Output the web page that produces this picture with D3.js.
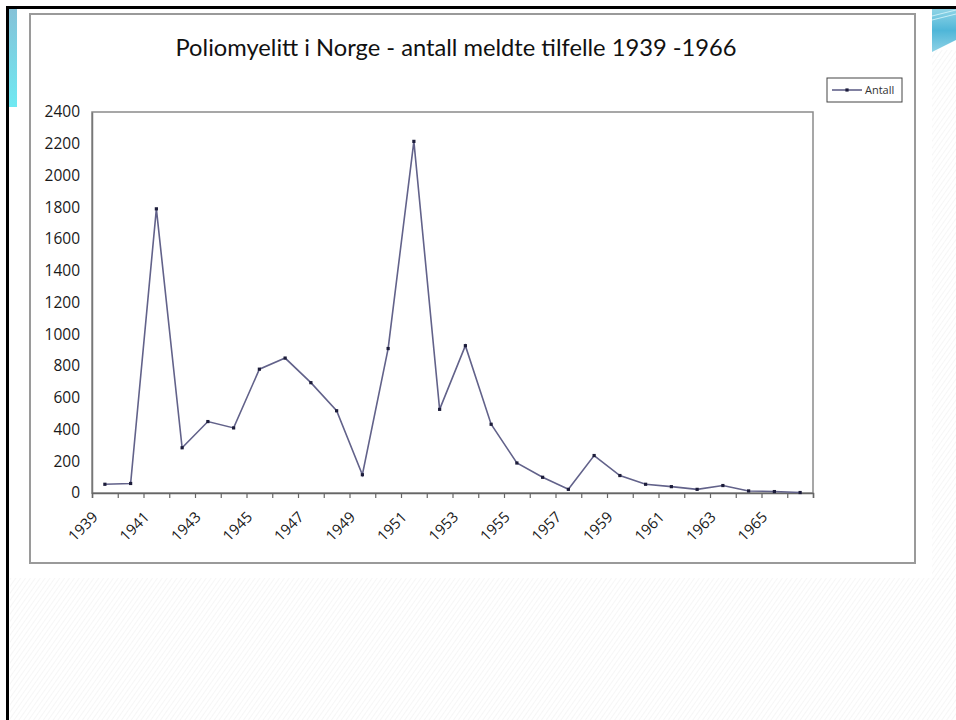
<!DOCTYPE html>
<html lang="nb">
<head>
<meta charset="utf-8">
<script src="https://cdn.jsdelivr.net/npm/d3@7"></script>
<style>
    body { margin: 0; background: #fff; }
    .axis text { font-family: "Open Sans", sans-serif; fill: #1a1a1a; }
</style>
</head>
<body>
<script>
    // data
    let years = d3.range(1939, 1967).map(String);
    let antall = [55, 60, 1790, 285, 450, 410, 780, 850, 695, 518, 115, 910, 2215, 527, 928, 433,
                  189, 99, 23, 236, 110, 55, 40, 23, 47, 13, 9, 3];
    let yTicks = [0, 200, 400, 600, 800, 1000, 1200, 1400, 1600, 1800, 2000, 2200, 2400];
    let xLabels = years.filter((d, i) => i % 2 === 0);
    let title = "Poliomyelitt i Norge - antall meldte tilfelle 1939 -1966";
    let seriesName = "Antall";

    let w = 956, h = 720;
    let plot = {left: 92, right: 813, top: 112, bottom: 493};

    let svg = d3.select("body").append("svg")
        .attr("width", w)
        .attr("height", h);

    let defs = svg.append("defs");
    let hatch = defs.append("pattern")
        .attr("id", "hatch")
        .attr("patternUnits", "userSpaceOnUse")
        .attr("width", 4).attr("height", 4)
        .attr("patternTransform", "rotate(35)");
    hatch.append("line")
        .attr("x1", 0).attr("y1", 0).attr("x2", 0).attr("y2", 4)
        .attr("stroke", "#f0f0f0").attr("stroke-width", 1.2);

    let gLeft = defs.append("linearGradient").attr("id", "blueLeft")
        .attr("x1", 0).attr("y1", 0).attr("x2", 0).attr("y2", 1);
    gLeft.append("stop").attr("offset", "0%").attr("stop-color", "#86c2d8");
    gLeft.append("stop").attr("offset", "100%").attr("stop-color", "#6fe9f2");

    let gRight = defs.append("linearGradient").attr("id", "blueRight")
        .attr("x1", 0).attr("y1", 0).attr("x2", 0).attr("y2", 1);
    gRight.append("stop").attr("offset", "0%").attr("stop-color", "#8fd4e6");
    gRight.append("stop").attr("offset", "50%").attr("stop-color", "#4fb6d8");
    gRight.append("stop").attr("offset", "100%").attr("stop-color", "#8fd2e6");

    // slide background
    svg.append("rect").attr("width", w).attr("height", h).attr("fill", "#fff");
    svg.append("rect").attr("x", 10).attr("y", 578).attr("width", w - 10).attr("height", h - 578)
        .attr("fill", "url(#hatch)");
    svg.append("rect").attr("x", 932).attr("y", 50).attr("width", 24).attr("height", 530)
        .attr("fill", "url(#hatch)");

    // decorations
    svg.append("rect").attr("x", 9).attr("y", 9).attr("width", 8).attr("height", 98)
        .attr("fill", "url(#blueLeft)");
    svg.append("path").attr("d", "M932,9 L956,9 L956,40 L932,52 Z").attr("fill", "url(#blueRight)");
    svg.append("path").attr("d", "M932,16 L956,10 M932,20 L956,14").attr("stroke", "#c8eef6")
        .attr("stroke-width", 1);
    svg.append("rect").attr("x", 6).attr("y", 6).attr("width", w - 6).attr("height", 3).attr("fill", "#000");
    svg.append("rect").attr("x", 6).attr("y", 6).attr("width", 3).attr("height", h - 6).attr("fill", "#000");

    // chart box
    svg.append("rect").attr("x", 30).attr("y", 14).attr("width", 885).attr("height", 549)
        .attr("fill", "#fff").attr("stroke", "#9a9a9a").attr("stroke-width", 2);

    svg.append("text")
        .attr("x", 456).attr("y", 56)
        .attr("text-anchor", "middle")
        .style("font-family", "Lato, sans-serif")
        .style("font-size", "23.7px")
        .style("fill", "#111")
        .text(title);

    let xScale = d3.scaleBand().domain(years).range([plot.left, plot.right]);
    let tickScale = d3.scaleLinear().domain([0, years.length]).range([plot.left, plot.right]);
    let yScale = d3.scaleLinear().domain([0, 2400]).range([plot.bottom, plot.top]);

    // plot frame
    svg.append("rect")
        .attr("x", plot.left).attr("y", plot.top)
        .attr("width", plot.right - plot.left).attr("height", plot.bottom - plot.top)
        .attr("fill", "none").attr("stroke", "#8a8a8a").attr("stroke-width", 1.5);

    let yAxis = svg.append("g")
        .attr("class", "axis")
        .attr("transform", `translate(${plot.left},0)`)
        .call(d3.axisLeft(yScale).tickValues(yTicks).tickSize(0).tickPadding(12).tickFormat(d3.format("d")));
    yAxis.select(".domain").attr("stroke", "#777").attr("stroke-width", 1.5);
    yAxis.selectAll("text").style("font-size", "15.5px");

    let xAxis = svg.append("g")
        .attr("class", "axis")
        .attr("transform", `translate(0,${plot.bottom})`)
        .call(d3.axisBottom(tickScale).tickValues(d3.range(0, years.length + 1)).tickSize(5).tickFormat(""));
    xAxis.select(".domain").attr("stroke", "#666").attr("stroke-width", 1.5);
    xAxis.selectAll(".tick line").attr("stroke", "#666").attr("stroke-width", 1.2);

    svg.append("g")
        .attr("class", "axis")
        .selectAll("text")
        .data(xLabels)
        .join("text")
        .attr("transform", d => `translate(${xScale(d) + xScale.bandwidth() / 2 - 6},518) rotate(-45)`)
        .attr("text-anchor", "end")
        .style("font-size", "15px")
        .text(d => d);

    // series
    let line = d3.line()
        .x((d, i) => xScale(years[i]) + xScale.bandwidth() / 2)
        .y(d => yScale(d));

    svg.append("path")
        .datum(antall)
        .attr("d", line)
        .attr("fill", "none")
        .attr("stroke", "#62628a")
        .attr("stroke-width", 1.6);

    svg.append("g")
        .selectAll("rect")
        .data(antall)
        .join("rect")
        .attr("x", (d, i) => xScale(years[i]) + xScale.bandwidth() / 2 - 1.6)
        .attr("y", d => yScale(d) - 1.6)
        .attr("width", 3.2)
        .attr("height", 3.2)
        .attr("fill", "#1c1c3a");

    // legend
    let legend = svg.append("g").attr("transform", "translate(827,78)");
    legend.append("rect").attr("width", 75).attr("height", 24)
        .attr("fill", "#fff").attr("stroke", "#444").attr("stroke-width", 1);
    legend.append("line").attr("x1", 5).attr("x2", 35).attr("y1", 12).attr("y2", 12)
        .attr("stroke", "#62628a").attr("stroke-width", 1.6);
    legend.append("rect").attr("x", 18.4).attr("y", 10.4).attr("width", 3.2).attr("height", 3.2)
        .attr("fill", "#1c1c3a");
    legend.append("text").attr("x", 38).attr("y", 16)
        .style("font-family", "Open Sans, sans-serif")
        .style("font-size", "11px")
        .style("fill", "#333")
        .text(seriesName);
</script>
</body>
</html>
